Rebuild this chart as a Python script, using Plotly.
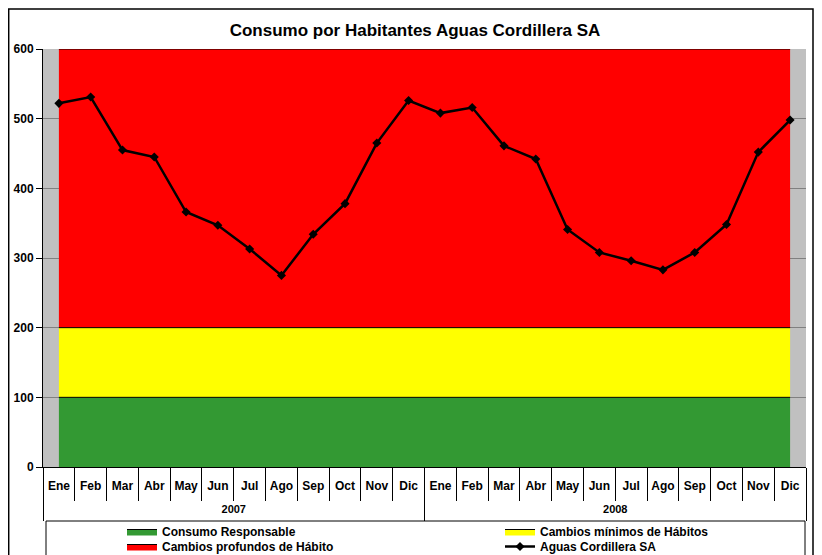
import plotly.graph_objects as go

months = ["Ene", "Feb", "Mar", "Abr", "May", "Jun", "Jul", "Ago", "Sep", "Oct", "Nov", "Dic"] * 2
years = ["2007", "2008"]
consumo = [522, 531, 455, 445, 366, 347, 313, 275, 334, 378, 465, 526,
           508, 516, 461, 442, 341, 308, 296, 283, 308, 348, 452, 498]
band_responsable = [100] * 24
band_minimos = [100] * 24
band_profundos = [400] * 24
y_ticks = [0, 100, 200, 300, 400, 500, 600]

FONT = "Liberation Sans"
n = len(months)
idx = list(range(n))
per_year = n // len(years)
year_centers = [i * per_year + (per_year - 1) / 2 for i in range(len(years))]
year_bounds = [i * per_year - 0.5 for i in range(len(years) + 1)]
month_bounds = [i - 0.5 for i in range(n + 1)]

# page offset (body margin) is 8px; work in page pixels and convert
OFF = 8
W, H = 822 - OFF, 555 - OFF
PL, PR, PT, PB = 43, 806, 49, 500   # paper area in page pixels (bottom = year row top)
AX = 467                           # main x-axis line in page pixels
L, R, T, B = PL - OFF, W - (PR - OFF), PT - OFF, H - (PB - OFF)
pw, ph = PR - PL, PB - PT


def px(X):
    return (X - PL) / pw


def py(Y):
    return (PB - Y) / ph


fig = go.Figure()
fig.add_trace(go.Scatter(x=idx, y=band_responsable, name="Consumo Responsable", stackgroup="b",
                         mode="lines", line=dict(color="black", width=1), fillcolor="#339933",
                         legend="legend"))
fig.add_trace(go.Scatter(x=idx, y=band_minimos, name="Cambios mínimos de Hábitos", stackgroup="b",
                         mode="lines", line=dict(color="black", width=1), fillcolor="#FFFF00",
                         legend="legend2"))
fig.add_trace(go.Scatter(x=idx, y=band_profundos, name="Cambios profundos de Hábito", stackgroup="b",
                         mode="lines", line=dict(color="black", width=1), fillcolor="#FF0000",
                         legend="legend3"))
fig.add_trace(go.Scatter(x=idx, y=consumo, name="Aguas Cordillera SA", mode="lines+markers",
                         line=dict(color="black", width=2.5),
                         marker=dict(symbol="diamond", size=7, color="black"),
                         legend="legend4"))
# invisible trace so the year axis is drawn
fig.add_trace(go.Scatter(x=year_centers, y=[0, 0], xaxis="x2", yaxis="y", mode="none",
                         showlegend=False, hoverinfo="skip"))

legend_font = dict(family=FONT, size=12, color="black", weight="bold")
common_legend = dict(orientation="v", xanchor="left", yanchor="top", traceorder="normal",
                     font=legend_font, bgcolor="rgba(0,0,0,0)", tracegroupgap=0,
                     itemwidth=30, borderwidth=0)
tick_font = dict(family=FONT, size=12, color="black", weight="bold")

fig.update_layout(
    width=W, height=H,
    margin=dict(l=L, r=R, t=T, b=B, autoexpand=False),
    paper_bgcolor="white",
    plot_bgcolor="#C0C0C0",
    font=dict(family=FONT, size=12, color="black"),
    hovermode=False,
    title=dict(text="<b>Consumo por Habitantes Aguas Cordillera SA</b>",
               x=px(415), xref="paper", xanchor="center",
               y=1 - (30 - OFF) / H, yanchor="middle",
               font=dict(family=FONT, size=17, color="black")),
    showlegend=True,
    legend=dict(x=px(122), y=py(517), **common_legend),
    legend2=dict(x=px(500), y=py(517), **common_legend),
    legend3=dict(x=px(122), y=py(532), **common_legend),
    legend4=dict(x=px(500), y=py(532), **common_legend),
    xaxis=dict(range=[-0.5, n - 0.5], tickmode="array", tickvals=idx, ticktext=months,
               ticks="", tickangle=0, automargin=False, showgrid=False, zeroline=False,
               ticklabelstandoff=8,
               minor=dict(tickmode="array", tickvals=month_bounds, ticks="outside", ticklen=33,
                          tickcolor="black", tickwidth=1, showgrid=False),
               showline=True, linecolor="black", linewidth=1,
               tickfont=tick_font),
    xaxis2=dict(range=[-0.5, n - 0.5], overlaying="x", anchor="free", position=0, side="bottom",
                tickmode="array", tickvals=year_centers, ticktext=years,
                ticks="", tickangle=0, automargin=False, showgrid=False, zeroline=False,
                showline=False, ticklabelstandoff=1,
                minor=dict(tickmode="array", tickvals=year_bounds, ticks="outside", ticklen=20,
                           tickcolor="black", tickwidth=1, showgrid=False),
                tickfont=dict(family=FONT, size=11, color="black", weight="bold")),
    yaxis=dict(range=[0, 600], tickvals=y_ticks, showgrid=True, gridcolor="#808080", gridwidth=1,
               domain=[(PB - AX) / ph, 1],
               ticks="outside", ticklen=6, tickcolor="black", automargin=False,
               showline=True, linecolor="black", linewidth=1, zeroline=False,
               tickfont=tick_font),
    shapes=[
        dict(type="rect", xref="paper", yref="paper", x0=px(46), x1=px(805), y0=py(600), y1=py(521),
             line=dict(color="black", width=1), fillcolor="rgba(0,0,0,0)", layer="below"),
        dict(type="rect", xref="paper", yref="paper", x0=px(8.7), x1=px(813), y0=py(600), y1=py(9),
             line=dict(color="black", width=1.5), fillcolor="rgba(0,0,0,0)", layer="below"),
    ],
)

fig.write_html("out.html")
